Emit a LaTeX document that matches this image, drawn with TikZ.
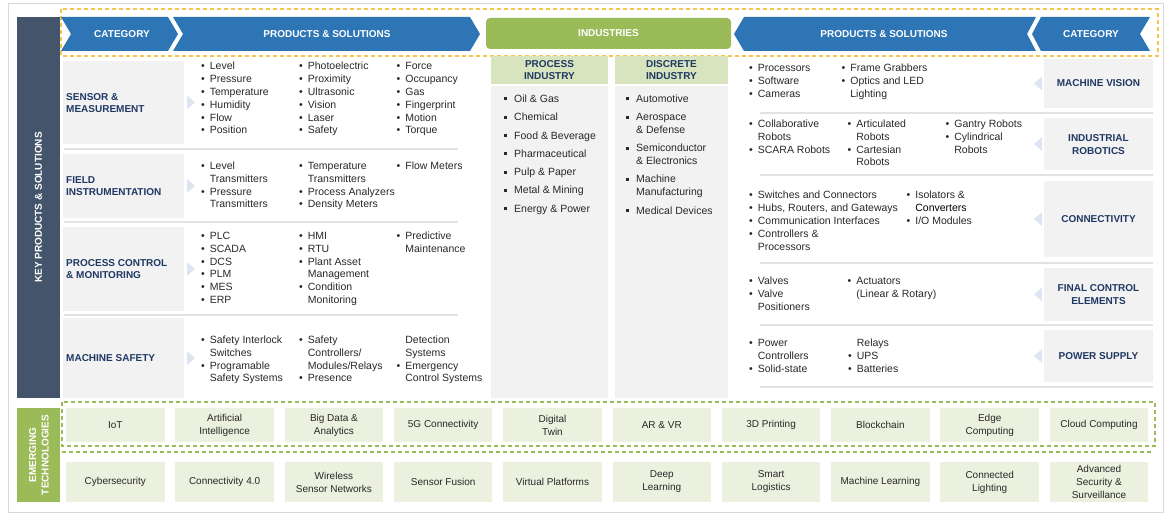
\documentclass[tikz,border=0pt]{standalone}
\usepackage{fontspec}
\setmainfont{Liberation Sans}
\usetikzlibrary{positioning}
\definecolor{hdrblue}{RGB}{46,117,182}
\definecolor{slate}{RGB}{68,84,106}
\definecolor{olive}{RGB}{155,187,89}
\definecolor{lightolive}{RGB}{215,228,189}
\definecolor{paleolive}{RGB}{235,241,222}
\definecolor{panel}{RGB}{242,242,242}
\definecolor{navy}{RGB}{31,56,100}
\definecolor{bodytxt}{RGB}{40,40,40}
\definecolor{tri}{RGB}{220,230,242}
\definecolor{sepgray}{RGB}{226,226,226}
\definecolor{gold}{RGB}{246,196,70}
% bullet lists: round bullets and square bullets
\newcommand\bul{\textbullet}
\newcommand\sqb{\rule[2pt]{3pt}{3pt}}
\newcommand\blist[1]{\begin{tabular}[t]{@{}c@{\hspace{5pt}}l@{}}#1\end{tabular}}
\newcommand\slist[1]{\begin{tabular}[t]{@{}c@{\hspace{7pt}}l@{}}#1\end{tabular}}
\begin{document}
\begin{tikzpicture}[x=1pt,y=-1pt,
    hdrtext/.style={text=white, font=\fontsize{10}{12.5}\selectfont\bfseries, inner sep=0pt},
    cattext/.style={text=navy, font=\fontsize{10}{12.5}\selectfont\bfseries, align=left, anchor=west, inner sep=0pt},
    rcattext/.style={text=navy, font=\fontsize{10}{12.5}\selectfont\bfseries, align=center, inner sep=0pt},
    list/.style={text=bodytxt, font=\fontsize{10.5}{12.8}\selectfont, anchor=base west, inner sep=0pt},
    sep/.style={draw=sepgray, line width=2pt},
    dashline/.style={line width=1.1pt, dash pattern=on 4pt off 3pt},
    indhead/.style={fill=lightolive, text=navy, font=\fontsize{10}{12.5}\selectfont\bfseries, align=center, minimum height=28pt, inner sep=0pt},
    tech/.style={fill=paleolive, text=bodytxt, font=\fontsize{10}{13}\selectfont, align=center, minimum width=98.5pt, minimum height=34pt, inner sep=0pt}]
    \useasboundingbox (0,0) rectangle (1170,518);
    \draw[black!15] (8,3) rectangle (1163,512);

    % side labels
    \fill[slate] (17,17) rectangle (60,398);
    \node[hdrtext, rotate=90] (kps) at (38.5,207.5) {KEY PRODUCTS \& SOLUTIONS};
    \fill[olive] (17,408) rectangle (60,502);
    \node[hdrtext, rotate=90, align=center] (emt) at (39,455) {EMERGING\\TECHNOLOGIES};

    % header band
    \draw[gold, dashline] (61,9) rectangle (1158,56);
    \fill[hdrblue] (61,17) -- (168,17) -- (178,34) -- (168,51) -- (61,51) -- (71,34) -- cycle;
    \fill[hdrblue] (173,17) -- (470,17) -- (480,34) -- (470,51) -- (173,51) -- (183,34) -- cycle;
    \fill[hdrblue] (734,34) -- (744,17) -- (1036,17) -- (1027,34) -- (1036,51) -- (744,51) -- cycle;
    \fill[hdrblue] (1032,34) -- (1041,17) -- (1150,17) -- (1140,34) -- (1150,51) -- (1041,51) -- cycle;
    \node[hdrtext] (cat1) at (122,34) {CATEGORY};
    \node[hdrtext] (ps1) at (327,34) {PRODUCTS \& SOLUTIONS};
    \node[hdrtext, fill=olive, rounded corners=4pt, minimum width=245pt, minimum height=31pt] (ind) at (608.5,33.5) {INDUSTRIES};
    \node[hdrtext] (ps2) at (884,34) {PRODUCTS \& SOLUTIONS};
    \node[hdrtext] (cat2) at (1091,34) {CATEGORY};

    % left categories
    \foreach \t/\b in {61/144,154/218,227/311,318/398} {
        \fill[panel] (63,\t) rectangle (184,\b);
        \fill[tri] (187,{(\t+\b)/2-7}) -- (195,{(\t+\b)/2}) -- (187,{(\t+\b)/2+7}) -- cycle;
    }
    \foreach \y in {149,222,315} \draw[sep] (64,\y) -- (458,\y);
    \node[cattext] (sens) at (66,103) {SENSOR \&\\MEASUREMENT};
    \node[cattext] (field) at (66,186) {FIELD\\INSTRUMENTATION};
    \node[cattext] (pcm) at (66,269) {PROCESS CONTROL\\\& MONITORING};
    \node[cattext] (msafe) at (66,358) {MACHINE SAFETY};

    \node[list] (sens1) at (201,70) {\blist{\bul & Level\\ \bul & Pressure\\ \bul & Temperature\\ \bul & Humidity\\ \bul & Flow\\ \bul & Position}};
    \node[list] (sens2) at (299,70) {\blist{\bul & Photoelectric\\ \bul & Proximity\\ \bul & Ultrasonic\\ \bul & Vision\\ \bul & Laser\\ \bul & Safety}};
    \node[list] (sens3) at (396.5,70) {\blist{\bul & Force\\ \bul & Occupancy\\ \bul & Gas\\ \bul & Fingerprint\\ \bul & Motion\\ \bul & Torque}};
    \node[list] (field1) at (201,169.5) {\blist{\bul & Level\\ & Transmitters\\ \bul & Pressure\\ & Transmitters}};
    \node[list] (field2) at (299,169.5) {\blist{\bul & Temperature\\ & Transmitters\\ \bul & Process Analyzers\\ \bul & Density Meters}};
    \node[list] (field3) at (396.5,169.5) {\blist{\bul & Flow Meters}};
    \node[list] (pcm1) at (201,239.5) {\blist{\bul & PLC\\ \bul & SCADA\\ \bul & DCS\\ \bul & PLM\\ \bul & MES\\ \bul & ERP}};
    \node[list] (pcm2) at (299,239.5) {\blist{\bul & HMI\\ \bul & RTU\\ \bul & Plant Asset\\ & Management\\ \bul & Condition\\ & Monitoring}};
    \node[list] (pcm3) at (396.5,239.5) {\blist{\bul & Predictive\\ & Maintenance}};
    \node[list] (msafe1) at (201,343.5) {\blist{\bul & Safety Interlock\\ & Switches\\ \bul & Programable\\ & Safety Systems}};
    \node[list] (msafe2) at (299,343.5) {\blist{\bul & Safety\\ & Controllers/\\ & Modules/Relays\\ \bul & Presence}};
    \node[list] (msafe3) at (396.5,343.5) {\blist{& Detection\\ & Systems\\ \bul & Emergency\\ & Control Systems}};

    % industries
    \fill[panel] (491,86) rectangle (608,398);
    \fill[panel] (615,86) rectangle (728,398);
    \node[indhead, minimum width=117pt] (proc) at (549.5,70) {PROCESS\\INDUSTRY};
    \node[indhead, minimum width=113pt] (disc) at (671.5,70) {DISCRETE\\INDUSTRY};
    \node[list] (procl) at (504,102.5) {\slist{\sqb & Oil \& Gas\\[5.5pt] \sqb & Chemical\\[5.5pt] \sqb & Food \& Beverage\\[5.5pt] \sqb & Pharmaceutical\\[5.5pt] \sqb & Pulp \& Paper\\[5.5pt] \sqb & Metal \& Mining\\[5.5pt] \sqb & Energy \& Power}};
    \node[list] (discl) at (626,102.5) {\slist{\sqb & Automotive\\[5.5pt] \sqb & Aerospace\\ & \& Defense\\[5.5pt] \sqb & Semiconductor\\ & \& Electronics\\[5.5pt] \sqb & Machine\\ & Manufacturing\\[5.5pt] \sqb & Medical Devices}};

    % right categories
    \foreach \t/\b in {59/108,118/170,181/257,268/321,330/382} {
        \fill[panel] (1044,\t) rectangle (1153,\b);
        \fill[tri] (1042,{(\t+\b)/2-7}) -- (1034,{(\t+\b)/2}) -- (1042,{(\t+\b)/2+7}) -- cycle;
    }
    \foreach \y in {113,175,263,325,387} \draw[sep] (760,\y) -- (1153,\y);
    \node[rcattext] (mvis) at (1098.5,83) {MACHINE VISION};
    \node[rcattext] (irob) at (1098.5,144.5) {INDUSTRIAL\\ROBOTICS};
    \node[rcattext] (conn) at (1098.5,219) {CONNECTIVITY};
    \node[rcattext] (fce) at (1098.5,294.5) {FINAL CONTROL\\ELEMENTS};
    \node[rcattext] (psup) at (1098.5,356) {POWER SUPPLY};

    \node[list] (mvis1) at (749,72) {\blist{\bul & Processors\\ \bul & Software\\ \bul & Cameras}};
    \node[list] (mvis2) at (841.5,72) {\blist{\bul & Frame Grabbers\\ \bul & Optics and LED\\ & Lighting}};
    \node[list] (irob1) at (749,127.5) {\blist{\bul & Collaborative\\ & Robots\\ \bul & SCARA Robots}};
    \node[list] (irob2) at (847.5,127.5) {\blist{\bul & Articulated\\ & Robots\\ \bul & Cartesian\\ & Robots}};
    \node[list] (irob3) at (945.5,127.5) {\blist{\bul & Gantry Robots\\ \bul & Cylindrical\\ & Robots}};
    \node[list] (conn1) at (749,199) {\blist{\bul & Switches and Connectors\\ \bul & Hubs, Routers, and Gateways\\ \bul & Communication Interfaces\\ \bul & Controllers \&\\ & Processors}};
    \node[list] (conn2) at (906.5,199) {\blist{\bul & Isolators \&\\ & \textcolor{black}{Converters}\\ \bul & I/O Modules}};
    \node[list] (fce1) at (749,284.5) {\blist{\bul & Valves\\ \bul & Valve\\ & Positioners}};
    \node[list] (fce2) at (847.5,284.5) {\blist{\bul & Actuators\\ & (Linear \& Rotary)}};
    \node[list] (psup1) at (749,346.5) {\blist{\bul & Power\\ & Controllers\\ \bul & Solid-state}};
    \node[list] (psup2) at (848,346.5) {\blist{& Relays\\ \bul & UPS\\ \bul & Batteries}};

    % emerging technologies
    \draw[olive, dashline] (62,402) rectangle (1155,446);
    \draw[olive, dashline] (62,452) -- (1152,452);
    \foreach \lbl [count=\i from 0] in {IoT, {Artificial\\Intelligence}, {Big Data \&\\Analytics}, 5G Connectivity, {Digital\\Twin}, AR \& VR, 3D Printing, Blockchain, {Edge\\Computing}, Cloud Computing}
        \node[tech] (top\i) at ({115.3+109.3*\i},425) {\lbl};
    \foreach \lbl [count=\i from 0] in {Cybersecurity, Connectivity 4.0, {Wireless\\Sensor Networks}, Sensor Fusion, Virtual Platforms, {Deep\\Learning}, {Smart\\Logistics}, Machine Learning, {Connected\\Lighting}, {Advanced\\Security \&\\Surveillance}}
        \node[tech, minimum height=40pt] (bot\i) at ({115.3+109.3*\i},482) {\lbl};
\end{tikzpicture}
\end{document}
